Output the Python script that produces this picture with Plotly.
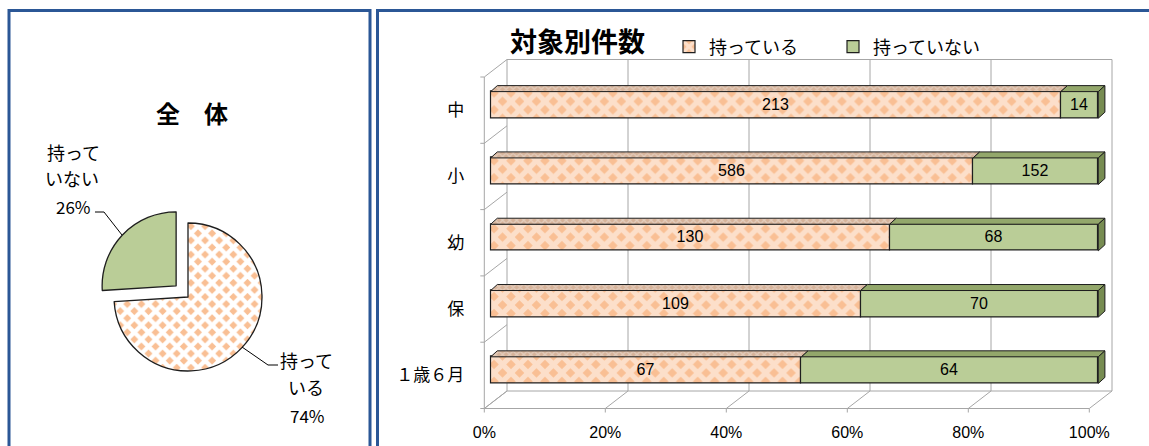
import plotly.graph_objects as go

# ---------------- data ----------------
CATEGORIES = ['中', '小', '幼', '保', '１歳６月']
HAVE = [213, 586, 130, 109, 67]
NOT_HAVE = [14, 152, 68, 70, 64]
SERIES_NAMES = ['持っている', '持っていない']
X_TICKS = [0, 0.2, 0.4, 0.6, 0.8, 1.0]
X_TICK_LABELS = ['0%', '20%', '40%', '60%', '80%', '100%']
PIE_LABELS = ['持っている', '持っていない']
PIE_PCT = [74, 26]
BAR_TITLE = '対象別件数'
PIE_TITLE = '全　体'

# ---------------- styles ----------------
W, H = 1149, 446
JP = 'Noto Sans CJK JP'
NUM = 'Liberation Sans'
ORANGE = '#F9BF94'
GREEN = '#BACD97'
GREEN_TOP = '#93A76B'
GREEN_SIDE = '#778C52'
GRID = '#A6A6A6'
EDGE = '#1e1e1e'
BORDER = '#2B5796'


def fx(p):
    return p / W


def fy(p):
    return 1 - p / H


# axis pixel mapping (front plane of the 3-D box)
X0_PX, X_SCALE = 484.3, 605.0
Y0_PX, Y_SCALE = 408.5, 66.3      # pixel of u = -0.5
DX, DY = 22.7 / X_SCALE, 17.5 / Y_SCALE      # box depth
BX0 = 6.4 / X_SCALE                          # bar front-face depth offset
BAR_SCALE = 607.6 / 605.0
BAR_YOFF = 0.079
BAR_W = 0.401
TDX, TDY = 6.6 / X_SCALE, 6.0 / Y_SCALE      # bar top-face depth

xr = [-0.04, 1.06]
yr = [-0.7, 4.9]
x_dom = [(X0_PX + X_SCALE * xr[0]) / W, (X0_PX + X_SCALE * xr[1]) / W]
y_dom = [1 - (Y0_PX - Y_SCALE * (yr[0] + 0.5)) / H,
         1 - (Y0_PX - Y_SCALE * (yr[1] + 0.5)) / H]

n = len(CATEGORIES)
U = [n - 1 - i for i in range(n)]
tot = [a + b for a, b in zip(HAVE, NOT_HAVE)]
f_have = [a / t * BAR_SCALE for a, t in zip(HAVE, tot)]
f_not = [b / t * BAR_SCALE for b, t in zip(NOT_HAVE, tot)]
yc = [u + BAR_YOFF for u in U]

fig = go.Figure()

fig.add_trace(go.Bar(
    orientation='h', y=yc, x=f_have, base=[BX0] * n, width=BAR_W,
    name=SERIES_NAMES[0], text=[str(v) for v in HAVE],
    textposition='inside', insidetextanchor='middle',
    textfont=dict(family=NUM, size=16, color='black'),
    marker=dict(color=ORANGE, line=dict(color=EDGE, width=1.2),
                pattern=dict(shape='x', bgcolor=ORANGE, fgcolor='white',
                             size=12, solidity=0.68)),
    hoverinfo='skip'))
fig.add_trace(go.Bar(
    orientation='h', y=yc, x=f_not, base=[BX0 + a for a in f_have], width=BAR_W,
    name=SERIES_NAMES[1], text=[str(v) for v in NOT_HAVE],
    textposition='inside', insidetextanchor='middle',
    textfont=dict(family=NUM, size=16, color='black'),
    marker=dict(color=GREEN, line=dict(color=EDGE, width=1.2)),
    hoverinfo='skip'))

# 3-D faces of bars
ot_x, ot_y, gt_x, gt_y, gs_x, gs_y = [], [], [], [], [], []
for i in range(n):
    yt = yc[i] + BAR_W / 2
    yb = yc[i] - BAR_W / 2
    a0 = BX0
    a1 = BX0 + f_have[i]
    a2 = a1 + f_not[i]
    ot_x += [a0, a1, a1 + TDX, a0 + TDX, a0, None]
    ot_y += [yt, yt, yt + TDY, yt + TDY, yt, None]
    gt_x += [a1, a2, a2 + TDX, a1 + TDX, a1, None]
    gt_y += [yt, yt, yt + TDY, yt + TDY, yt, None]
    gs_x += [a2, a2, a2 + TDX, a2 + TDX, a2, None]
    gs_y += [yb, yt, yt + TDY, yb + TDY, yb, None]

fig.add_trace(go.Scatter(x=ot_x, y=ot_y, mode='lines', fill='toself',
                         fillcolor='#DDBFA9',
                         fillpattern=dict(shape='x', bgcolor='#D6B39A', fgcolor='#EFE7E0',
                                          size=5, solidity=0.45),
                         line=dict(color=EDGE, width=1), showlegend=False, hoverinfo='skip'))
fig.add_trace(go.Scatter(x=gt_x, y=gt_y, mode='lines', fill='toself', fillcolor=GREEN_TOP,
                         line=dict(color=EDGE, width=1), showlegend=False, hoverinfo='skip'))
fig.add_trace(go.Scatter(x=gs_x, y=gs_y, mode='lines', fill='toself', fillcolor=GREEN_SIDE,
                         line=dict(color=EDGE, width=1), showlegend=False, hoverinfo='skip'))

# pie (first slice laid out clockwise from 12 o'clock, second ends up on the left)
PR = 74.0
PULL = 0.22
PCX, PCY = 188.0, 297.0
half = PR * (1 + PULL)
fig.add_trace(go.Pie(
    values=PIE_PCT, labels=PIE_LABELS, sort=False, direction='counterclockwise',
    rotation=0, pull=[0, PULL], textinfo='none', showlegend=False, hoverinfo='skip',
    domain=dict(x=[fx(PCX - half), fx(PCX + half)], y=[fy(PCY + half), fy(PCY - half)]),
    marker=dict(colors=[ORANGE, GREEN], line=dict(color=EDGE, width=1.3),
                pattern=dict(shape=['x', ''], bgcolor=[ORANGE, GREEN],
                             fgcolor=['white', GREEN], size=10, solidity=0.68))))

shapes = []


def dline(x0, y0, x1, y1, color=GRID, width=1):
    shapes.append(dict(type='line', xref='x', yref='y', x0=x0, y0=y0, x1=x1, y1=y1,
                       line=dict(color=color, width=width), layer='below'))


# 3-D box: back wall, floor and left wall
for v in X_TICKS:
    dline(v + DX, -0.5 + DY, v + DX, 4.5 + DY)
    dline(v, -0.5, v + DX, -0.5 + DY)
    dline(v, -0.5, v, -0.5 - 4 / Y_SCALE)
dline(DX, 4.5 + DY, 1 + DX, 4.5 + DY)
dline(DX, -0.5 + DY, 1 + DX, -0.5 + DY)
dline(0, -0.5, 1, -0.5)
dline(0, -0.5, 0, 4.5)
for k in range(n + 1):
    b = -0.5 + k
    dline(0, b, DX, b + DY)
    dline(-4 / X_SCALE, b, 0, b)


def ppath(pts, color='black', width=1):
    d = 'M ' + ' L '.join(f'{fx(x):.5f},{fy(y):.5f}' for x, y in pts)
    shapes.append(dict(type='path', xref='paper', yref='paper', path=d,
                       line=dict(color=color, width=width)))


# pie leader lines
ppath([(95, 212), (104, 212), (122, 235)])
ppath([(278, 365), (268, 365), (242, 347)])

# panel borders
shapes.append(dict(type='rect', xref='paper', yref='paper', x0=fx(9), x1=fx(370),
                   y0=fy(10.5), y1=fy(470), line=dict(color=BORDER, width=3)))
shapes.append(dict(type='rect', xref='paper', yref='paper', x0=fx(377.5), x1=fx(1170),
                   y0=fy(10.5), y1=fy(470), line=dict(color=BORDER, width=3)))

ann = []


def text(x, y, s, size=18, bold=False, family=JP):
    ann.append(dict(x=fx(x), y=fy(y), xref='paper', yref='paper', text=(f'<b>{s}</b>' if bold else s),
                    showarrow=False, xanchor='center', yanchor='middle',
                    font=dict(family=family, size=size, color='black')))


text(577, 40, BAR_TITLE, size=27, bold=True)
text(192, 112, PIE_TITLE, size=24, bold=True)
# pie labels
lbl_have, lbl_not = PIE_LABELS
pct_have, pct_not = PIE_PCT
text(73, 152, lbl_not[:3])
text(72, 178, lbl_not[3:])
text(73, 206, f'{pct_not}%', size=17)
text(306, 360, lbl_have[:3])
text(306, 387, lbl_have[3:])
text(307, 415, f'{pct_have}%', size=17)

fig.update_layout(
    width=W, height=H, autosize=False,
    margin=dict(l=0, r=0, t=0, b=0),
    paper_bgcolor='white', plot_bgcolor='rgba(0,0,0,0)',
    barmode='overlay', bargap=0,
    shapes=shapes, annotations=ann,
    legend=dict(orientation='h', x=fx(669), y=fy(47), xanchor='left', yanchor='middle',
                font=dict(family=JP, size=18, color='black'), bgcolor='rgba(0,0,0,0)',
                entrywidth=119, entrywidthmode='pixels', traceorder='normal'),
    xaxis=dict(range=xr, domain=x_dom, anchor='free', position=fy(Y0_PX),
               tickvals=X_TICKS, ticktext=X_TICK_LABELS, ticks='', showgrid=False,
               zeroline=False, showline=False, ticklabelstandoff=12,
               tickfont=dict(family=NUM, size=16, color='black'), fixedrange=True),
    yaxis=dict(range=yr, domain=y_dom, anchor='free', position=fx(X0_PX),
               tickvals=U, ticktext=CATEGORIES, ticks='', showgrid=False,
               zeroline=False, showline=False, ticklabelstandoff=20,
               tickfont=dict(family=JP, size=17, color='black'), fixedrange=True),
)

fig.write_html('out.html')
